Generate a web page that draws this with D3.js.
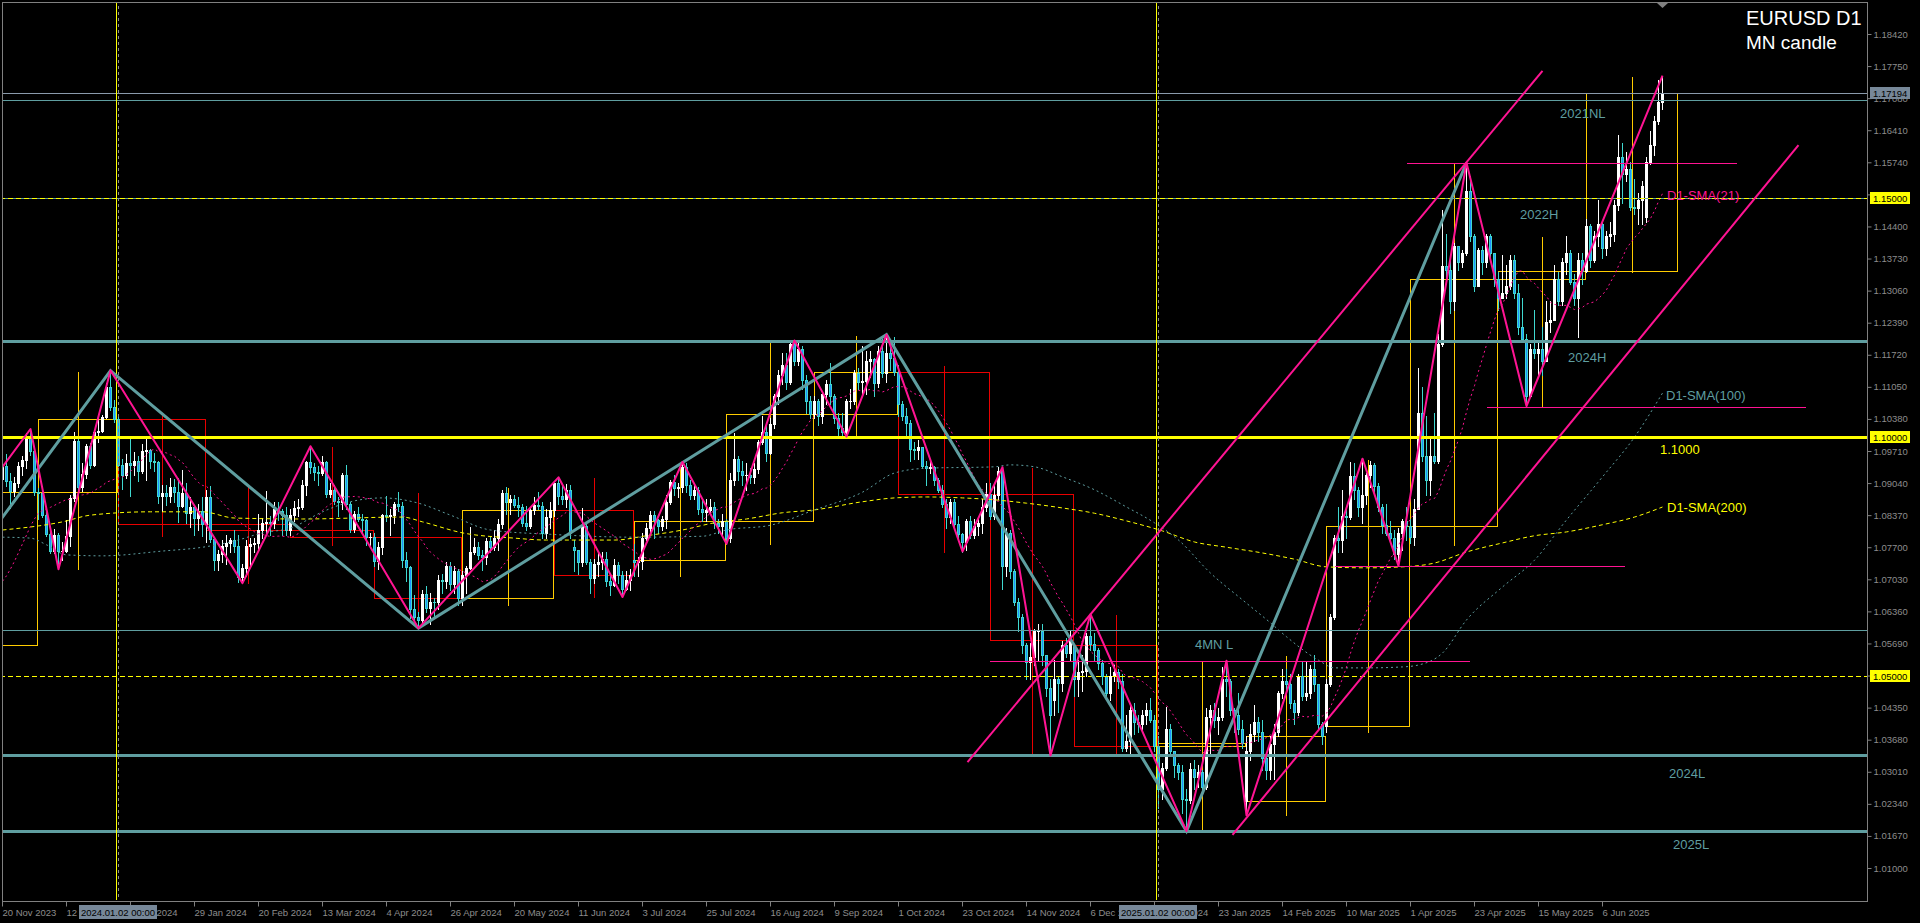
<!DOCTYPE html>
<html><head><meta charset="utf-8">
<script src="https://cdn.jsdelivr.net/npm/d3@7"></script>
<style>html,body{margin:0;padding:0;background:#000;overflow:hidden}</style>
</head><body>
<svg id="c" width="1920" height="923"></svg>
<script>
// ===== DATA (prices in pips above 1.0000) — EURUSD daily, 20 Nov 2023 .. 27 Jun 2025 =====
const openPips = [
912,940,908,888,905,940,953,998,970,886, 883,837,797,763,795,762,763,793,873,991,
895,923,982,942,1010,1012,1043,1105,1062,1038, 942,920,946,941,950,930,972,974,951,948,
878,884,876,896,886,856,884,842,855,831, 845,818,875,788,743,756,772,778,785,772,
708,727,772,777,778,807,820,822,820,850, 845,838,805,838,852,855,900,947,937,927,
925,947,882,890,867,865,920,861,808,840, 830,826,791,792,742,770,837,836,837,861,
856,743,728,642,625,617,672,643,656,655, 702,700,730,694,720,665,712,727,760,770,
753,750,782,770,790,818,883,865,870,858, 855,820,815,848,858,857,800,833,848,904,
877,870,890,770,765,740,815,740,705,735, 740,745,700,692,733,712,682,702,743,740,
742,790,810,838,826,814,830,865,906,894, 895,938,900,880,890,850,843,847,855,820,
815,825,790,910,955,930,920,921,917,933, 990,1010,967,1027,1085,1130,1150,1115,1195,1160,
1185,1120,1075,1048,1075,1045,1090,1110,1085,1040, 1020,1010,1075,1076,1133,1115,1118,1160,1163,1112,
1180,1133,1176,1165,1135,1070,1045,1030,975,973, 980,940,935,937,910,890,860,833,865,818,
798,780,825,795,815,820,855,882,835,880, 930,730,800,720,655,625,565,530,540,595,
596,545,475,450,495,487,565,550,566,495, 510,512,585,567,555,528,500,465,500,510,
490,350,365,430,405,400,420,430,410,355, 265,308,390,345,315,300,245,243,307,290,
300,270,415,430,410,415,495,490,430,420, 390,240,345,380,405,385,330,305,360,385,
465,490,485,445,425,500,460,465,515,485, 400,397,485,625,790,785,835,833,918,890,
855,880,920,942,898,853,816,800,790,755, 800,825,815,791,850,1050,960,910,960,950,
1195,1357,1350,1285,1400,1365,1385,1515,1420,1315, 1390,1365,1420,1385,1330,1290,1300,1315,1370,1300,
1230,1205,1085,1185,1175,1185,1160,1240,1245,1330, 1285,1365,1385,1325,1290,1370,1347,1440,1370,1420,
1445,1395,1420,1425,1485,1585,1550,1560,1480,1478, 1495,1460,1575,1610,1660,1700];
const highPips = [
965,964,926,917,948,960,1009,1017,980,894, 897,846,806,809,800,780,827,880,1010,996,
945,985,988,1012,1040,1046,1112,1139,1077,1046, 955,965,998,968,960,985,998,975,966,950,
900,900,915,912,915,932,905,875,857,860, 874,889,897,790,765,785,795,790,805,795,
735,785,790,790,840,832,888,835,865,865, 850,855,850,866,870,910,950,981,945,940,
960,950,905,900,875,925,942,865,845,855, 840,830,800,800,780,840,876,850,865,885,
865,760,730,670,635,680,690,675,665,712, 715,740,740,730,725,720,730,812,790,780,
765,790,792,805,830,890,895,880,880,875, 860,857,855,875,885,865,850,865,905,916,
900,902,900,785,765,852,820,745,745,760, 760,760,710,745,740,720,720,725,776,750,
800,820,845,845,830,835,880,910,920,905, 948,945,910,905,895,870,870,870,865,830,
840,830,925,1008,960,950,945,935,945,995, 1045,1025,1040,1090,1140,1175,1175,1200,1202,1200,
1190,1130,1085,1085,1080,1095,1120,1155,1090,1050, 1050,1080,1100,1140,1145,1190,1180,1180,1165,1190,
1205,1214,1205,1210,1150,1075,1060,1035,990,995, 980,950,950,940,915,900,870,870,870,835,
800,830,835,830,830,870,905,905,905,937, 937,810,805,725,665,630,570,570,600,610,
610,545,495,535,500,575,580,595,566,535, 545,590,630,590,560,535,505,520,525,515,
505,420,445,445,420,430,445,455,420,375, 320,437,400,345,320,315,265,320,325,315,
305,435,440,445,435,520,533,495,435,465, 410,375,400,440,415,410,340,375,400,470,
515,515,505,450,505,530,530,525,545,485, 405,495,630,795,855,890,855,947,945,895,
955,925,950,945,905,860,860,825,805,810, 830,855,830,870,1144,1105,1045,1000,1050,1215,
1475,1425,1370,1405,1400,1390,1573,1545,1425,1395, 1400,1425,1425,1385,1345,1380,1360,1380,1380,1320,
1290,1215,1195,1265,1200,1230,1285,1285,1360,1345, 1375,1420,1390,1340,1385,1385,1455,1445,1430,1495,
1450,1430,1450,1495,1630,1615,1595,1575,1540,1510, 1535,1585,1640,1670,1745,1755];
const lowPips = [
902,897,852,878,896,920,935,962,880,828, 833,794,757,758,724,744,761,772,866,881,
888,915,935,940,990,1010,1040,1057,1032,939, 892,915,877,920,908,925,910,935,930,862,
845,858,865,865,822,854,821,813,795,805, 794,780,780,723,722,740,735,760,760,697,
695,710,732,760,765,790,800,795,810,827, 796,796,796,825,835,850,880,925,910,900,
920,875,875,860,835,850,850,802,802,825, 802,775,775,730,725,755,825,795,820,845,
728,700,623,615,601,612,635,610,625,640, 675,685,680,675,650,650,675,725,755,745,
723,735,760,765,765,810,840,840,855,835, 815,805,810,840,850,790,790,810,835,860,
860,855,790,720,715,730,735,675,695,710, 725,690,670,690,695,666,680,680,710,710,
725,785,800,790,800,805,810,860,880,875, 885,885,870,870,840,825,825,840,810,800,
795,777,780,900,910,900,890,905,905,925, 985,950,965,1020,1070,1110,1100,1110,1150,1150,
1100,1050,1040,1040,1026,1030,1070,1070,1030,1005, 1003,1001,1060,1070,1100,1085,1090,1125,1085,1105,
1125,1115,1140,1130,1045,1035,1005,950,955,955, 935,900,925,900,885,855,810,820,810,790,
761,765,790,790,795,800,845,830,830,870, 683,710,705,650,595,550,495,495,525,535,
525,460,335,420,425,470,540,535,460,460, 470,500,555,535,515,485,455,450,490,475,
345,345,340,380,385,385,400,405,345,225, 245,305,340,290,285,215,177,235,265,270,
265,265,340,395,380,410,460,420,385,380, 350,210,325,365,365,305,285,285,285,375,
455,465,435,400,420,450,450,455,470,390, 360,385,480,620,760,760,790,830,870,835,
820,860,895,880,845,800,795,780,745,731, 765,785,778,775,850,950,880,880,945,945,
1190,1320,1260,1265,1350,1355,1380,1410,1305,1315, 1340,1355,1370,1315,1265,1290,1290,1310,1290,1215,
1200,1065,1085,1165,1130,1130,1160,1220,1245,1275, 1275,1340,1320,1275,1210,1320,1345,1355,1365,1400,
1375,1380,1400,1410,1475,1490,1535,1475,1465,1445, 1445,1450,1570,1590,1655,1685];
const closePips = [
940,908,888,905,940,953,998,970,886,883, 837,797,763,795,762,763,793,873,991,895,
923,982,942,1010,1012,1043,1105,1062,1038,942, 920,946,941,950,930,972,974,951,948,878,
884,876,896,886,856,884,842,855,831,845, 818,875,788,743,756,772,778,785,772,708,
727,772,777,778,807,820,822,820,850,845, 838,805,838,852,855,900,947,937,927,925,
947,882,890,867,865,920,861,808,840,830, 826,791,792,742,770,837,836,837,861,856,
743,728,642,625,617,672,643,656,655,702, 700,730,694,720,665,712,727,760,770,753,
750,782,770,790,818,883,865,870,858,855, 820,815,848,858,857,800,833,848,904,877,
870,890,800,765,740,815,740,705,735,740, 745,700,692,733,712,682,702,713,740,742,
790,810,838,826,814,830,865,906,894,895, 938,900,880,890,850,843,847,855,820,815,
825,790,910,955,930,920,921,917,933,990, 1010,967,1027,1085,1130,1150,1115,1195,1160,1185,
1120,1075,1048,1075,1045,1090,1110,1085,1040,1020, 1010,1075,1076,1133,1115,1118,1160,1163,1112,1180,
1133,1176,1165,1135,1070,1045,1030,975,973,980, 940,935,937,910,890,860,833,865,818,798,
780,825,795,815,820,855,882,835,880,930, 730,800,720,655,625,565,530,540,595,596,
545,475,420,495,487,565,550,577,495,510, 512,585,567,555,528,500,465,500,510,490,
350,365,430,405,400,420,430,410,355,265, 308,390,345,315,300,245,243,307,290,300,
270,415,430,410,415,495,490,430,420,390, 362,345,380,405,385,330,305,360,385,465,
490,485,445,425,500,460,465,515,485,400, 375,485,625,790,785,835,833,918,890,855,
880,920,942,898,853,816,800,790,755,800, 825,815,791,850,1050,960,910,960,950,1195,
1357,1350,1285,1400,1365,1385,1515,1420,1315,1390, 1365,1420,1385,1330,1290,1300,1315,1370,1300,1230,
1205,1085,1185,1175,1185,1160,1240,1245,1330,1285, 1365,1385,1325,1290,1370,1347,1440,1370,1420,1445,
1395,1420,1425,1485,1585,1550,1560,1480,1478,1495, 1525,1575,1610,1660,1700,1719];
// 20 closes before the first bar (for the 21-period average)
const priorCloses = [670,590,565,565,565,615,575,570,620,730,720,700,710,670,685,700,880,850,850,910];

// monthly candles: first bar index of each month from Dec 2023
const monthStarts = [9,29,51,72,93,115,138,158,181,203,224,247,268,289,311,331,352,374,396];
const priorMonthStart = -13, priorMonthOpen = 1.0566, priorMonthHigh = 1.1017, priorMonthLow = 1.0516;
const lastMonthEndBar = 418;

// moving averages: [bar index, price]
const sma100Pts = [[0,1.0791],[7,1.0789],[11,1.0775],[16,1.0754],[25,1.0752],[40,1.0762],[50,1.0770],[58,1.0783],[65,1.0800],[72,1.0810],[80,1.0844],[87,1.0865],[95,1.0873],[104,1.0862],[112,1.0837],[122,1.0806],[137,1.0797],[158,1.0791],[175,1.0793],[181,1.0806],[192,1.0816],[203,1.0848],[215,1.0885],[223,1.0925],[231,1.0935],[248,1.0938],[252,1.0942],[258,1.0938],[265,1.0917],[273,1.0890],[281,1.0854],[288,1.0821],[294,1.0785],[302,1.0716],[310,1.0660],[317,1.0612],[321,1.0583],[329,1.0534],[333,1.0518],[341,1.0518],[350,1.0520],[354,1.0524],[360,1.0549],[366,1.0618],[375,1.0687],[383,1.0743],[391,1.0827],[400,1.0917],[408,1.1000],[415,1.1092]];
const sma200Pts = [[0,1.0806],[15,1.0823],[22,1.0837],[37,1.0844],[50,1.0844],[58,1.0831],[75,1.0829],[100,1.0833],[105,1.0823],[115,1.0800],[128,1.0789],[136,1.0785],[153,1.0785],[161,1.0794],[170,1.0806],[178,1.0821],[186,1.0829],[195,1.0842],[203,1.0848],[215,1.0865],[223,1.0873],[231,1.0875],[240,1.0873],[248,1.0869],[256,1.0862],[265,1.0852],[273,1.0841],[281,1.0825],[290,1.0804],[298,1.0781],[306,1.0770],[315,1.0758],[323,1.0745],[331,1.0729],[341,1.0727],[350,1.0729],[358,1.0737],[366,1.0760],[375,1.0779],[383,1.0794],[391,1.0802],[400,1.0817],[408,1.0833],[415,1.0854]];

// zigzags: bar index + price
const zzPinkIdx = [0,7,14,27,60,77,104,139,155,170,181,198,211,221,240,250,262,272,296,306,311,340,349,366,381,415];
const zzPinkPrice = [1.0938,1.1017,1.0724,1.1139,1.0695,1.0981,1.0601,1.0916,1.0666,1.0948,1.0777,1.1202,1.1001,1.1214,1.0761,1.0937,1.0335,1.0630,1.0177,1.0533,1.0210,1.0955,1.0731,1.1573,1.1065,1.1755];
const zzTealIdx = [-0.5,27,104,221,296,366];
const zzTealPrice = [1.0827,1.1139,1.0601,1.1214,1.0177,1.1573];

// channel lines (two anchors each)
const channelUpper = [[241.25,1.0321],[385,1.1765]];
const channelLower = [[307.5,1.0169],[449,1.1610]];

// horizontal levels
const bidPrice = 1.17194;
const tealThinLevels = [1.1704, 1.1500, 1.0597];
const tealThickLevels = [1.1200, 1.0335, 1.0177];
const yellowThickLevels = [1.1000];
const yellowDashLevels = [1.1500, 1.0500];
// short pink levels: start bar, end bar, price
const pinkSegStart = [351.25, 371.25, 333.25, 247];
const pinkSegEnd = [433.75, 451, 405.75, 367];
const pinkSegPrice = [1.1573, 1.1063, 1.0731, 1.0532];

// text labels on the chart: text, bar index (left), price (baseline)
const tealLabelText = ["2021NL","2022H","2024H","D1-SMA(100)","4MN L","2024L","2025L"];
const tealLabelIdx = [389.5, 379.5, 391.5, 416, 298.25, 416.75, 417.75];
const tealLabelPrice = [1.16666, 1.14556, 1.11569, 1.10775, 1.05574, 1.02880, 1.01397];
const yellowLabelText = ["1.1000","D1-SMA(200)"];
const yellowLabelIdx = [414.5, 416.25];
const yellowLabelPrice = [1.09647, 1.08436];
const pinkLabelText = ["D1-SMA(21)"];
const pinkLabelIdx = [416.25];
const pinkLabelPrice = [1.14953];

// period separators
const sepBars = [29, 289];
const sepText = ["2024.01.02 00:00", "2025.01.02 00:00"];

// axis ticks
const priceTicks = ["1.18420","1.17750","1.17080","1.16410","1.15740","1.15070","1.14400","1.13730","1.13060","1.12390","1.11720","1.11050","1.10380","1.09710","1.09040","1.08370","1.07700","1.07030","1.06360","1.05690","1.05020","1.04350","1.03680","1.03010","1.02340","1.01670","1.01000"];
const markedPriceText = ["1.17194","1.15000","1.10000","1.05000"];
const timeTickIdx = [0,16,32,48,64,80,96,112,128,144,160,176,192,208,224,240,256,272,288,304,320,336,352,368,384,400];
const timeTickLabels = ["20 Nov 2023","12 Dec 2023","5 Jan 2024","29 Jan 2024","20 Feb 2024","13 Mar 2024","4 Apr 2024","26 Apr 2024","20 May 2024","11 Jun 2024","3 Jul 2024","25 Jul 2024","16 Aug 2024","9 Sep 2024","1 Oct 2024","23 Oct 2024","14 Nov 2024","6 Dec 2024","31 Dec 2024","23 Jan 2025","14 Feb 2025","10 Mar 2025","1 Apr 2025","23 Apr 2025","15 May 2025","6 Jun 2025"];
const titleLines = ["EURUSD D1","MN candle"];

// ===== DRAWING =====
const P = v => 1 + v / 10000;
const N = Math.min(openPips.length, highPips.length, lowPips.length, closePips.length);
const bars = d3.range(N).map(i => {
  const o = P(openPips[i]), c = P(closePips[i]);
  return {i, o, c, h: Math.max(P(highPips[i]), o, c), l: Math.min(P(lowPips[i]), o, c)};
});
const allC = priorCloses.concat(closePips.slice(0, N)).map(P);
const sma21 = bars.map((b, i) => [i, d3.mean(allC.slice(i, i + 21))]);

const svg = d3.select('#c');
svg.append('rect').attr('width', 1920).attr('height', 923).attr('fill', '#000');
svg.append('defs').append('clipPath').attr('id', 'plot')
  .append('rect').attr('x', 3).attr('y', 3).attr('width', 1864).attr('height', 897);

const x = d3.scaleLinear().domain([0, 415]).range([2, 1662]);
const y = d3.scaleLinear().domain([1.0100, 1.1842]).range([868, 34]);
const ry = p => Math.round(y(p)) + 0.5;
const FONT = '"Liberation Sans", Arial, sans-serif';

const g = svg.append('g').attr('clip-path', 'url(#plot)');

// --- monthly candles
const months = [];
{
  const first = bars.slice(0, monthStarts[0]);
  months.push({s: priorMonthStart, e: monthStarts[0] - 1, o: priorMonthOpen,
    h: Math.max(priorMonthHigh, d3.max(first, d => d.h)), l: Math.min(priorMonthLow, d3.min(first, d => d.l)),
    c: first[first.length - 1].c});
  monthStarts.forEach((s, k) => {
    const last = k + 1 < monthStarts.length ? monthStarts[k + 1] - 1 : N - 1;
    const seg = bars.slice(s, last + 1);
    months.push({s, e: k + 1 < monthStarts.length ? last : lastMonthEndBar, o: seg[0].o,
      h: d3.max(seg, d => d.h), l: d3.min(seg, d => d.l), c: seg[seg.length - 1].c});
  });
}
const gm = g.append('g').attr('shape-rendering', 'crispEdges').attr('fill', 'none');
months.forEach(m => {
  const col = m.c >= m.o ? '#ffcc00' : '#e80000';
  const L = x(m.s) + 0.5, R = x(m.e) + 3.5;
  const T = ry(Math.max(m.o, m.c)), B = ry(Math.min(m.o, m.c));
  const mid = Math.round((L + R) / 2) + 0.5;
  gm.append('line').attr('x1', mid).attr('x2', mid).attr('y1', ry(m.h)).attr('y2', ry(m.l)).attr('stroke', col);
  gm.append('rect').attr('x', L).attr('y', T).attr('width', R - L).attr('height', Math.max(B - T, 0)).attr('stroke', col);
});

// --- candles
const gc = g.append('g').attr('shape-rendering', 'crispEdges');
bars.forEach(b => {
  const bull = b.c >= b.o;
  const px = x(b.i);
  const wick = bull ? '#ffffff' : '#3fd8d0';
  const fill = bull ? '#ffffff' : '#1e90ff';
  gc.append('line').attr('x1', px + 0.5).attr('x2', px + 0.5)
    .attr('y1', Math.round(y(b.h))).attr('y2', Math.round(y(b.l)) + 1).attr('stroke', wick);
  const top = Math.round(y(Math.max(b.o, b.c))), bot = Math.round(y(Math.min(b.o, b.c)));
  if (bot - top < 1) {
    gc.append('line').attr('x1', px - 1).attr('x2', px + 2).attr('y1', top + 0.5).attr('y2', top + 0.5).attr('stroke', wick);
  } else {
    gc.append('rect').attr('x', px - 0.5).attr('y', top + 0.5).attr('width', 2).attr('height', bot - top)
      .attr('fill', fill).attr('stroke', wick);
  }
});

// --- moving averages
const lineGen = d3.line().x(d => x(d[0]) + 0.5).y(d => y(d[1]));
const smoothGen = d3.line().x(d => x(d[0]) + 0.5).y(d => y(d[1])).curve(d3.curveMonotoneX);
g.append('path').attr('d', smoothGen(sma200Pts)).attr('fill', 'none').attr('stroke', '#ffff00').attr('stroke-width', 1).attr('stroke-dasharray', '4,3');
g.append('path').attr('d', smoothGen(sma100Pts)).attr('fill', 'none').attr('stroke', '#5f9ea0').attr('stroke-width', 1).attr('stroke-dasharray', '2,3');
g.append('path').attr('d', lineGen(sma21)).attr('fill', 'none').attr('stroke', '#ff1493').attr('stroke-width', 1).attr('stroke-dasharray', '2,3');

// --- horizontal levels
const gl = g.append('g').attr('shape-rendering', 'crispEdges');
function hline(p, col, w, dash) {
  const l = gl.append('line').attr('x1', 0).attr('x2', 1870).attr('y1', ry(p)).attr('y2', ry(p))
    .attr('stroke', col).attr('stroke-width', w);
  if (dash) l.attr('stroke-dasharray', dash);
}
hline(bidPrice, '#8a9aab', 1);
tealThinLevels.forEach(p => hline(p, '#5f9ea0', 1));
tealThickLevels.forEach(p => hline(p, '#5f9ea0', 3));
yellowThickLevels.forEach(p => hline(p, '#ffff00', 3));
yellowDashLevels.forEach(p => hline(p, '#ffff00', 1, '5,3'));
pinkSegPrice.forEach((p, k) => {
  gl.append('line').attr('x1', x(pinkSegStart[k])).attr('x2', x(pinkSegEnd[k]))
    .attr('y1', ry(p)).attr('y2', ry(p)).attr('stroke', '#ff1493').attr('stroke-width', 1);
});

// --- period separators
sepBars.forEach(i => {
  gl.append('line').attr('x1', x(i) - 1.5).attr('x2', x(i) - 1.5).attr('y1', 0).attr('y2', 901).attr('stroke', '#ffff00');
  gl.append('line').attr('x1', x(i) + 0.5).attr('x2', x(i) + 0.5).attr('y1', 0).attr('y2', 901)
    .attr('stroke', '#8c8c8c').attr('stroke-dasharray', '3,3');
});

// --- zigzags and channels
const tealZZ = zzTealIdx.map((d, k) => [d, zzTealPrice[k]]);
const pinkZZ = zzPinkIdx.map((d, k) => [d, zzPinkPrice[k]]);
g.append('path').attr('d', lineGen(tealZZ)).attr('fill', 'none').attr('stroke', '#5f9ea0').attr('stroke-width', 3);
g.append('path').attr('d', lineGen(pinkZZ)).attr('fill', 'none').attr('stroke', '#ff1493').attr('stroke-width', 2).attr('stroke-linejoin', 'round');
[channelUpper, channelLower].forEach(ch => {
  g.append('path').attr('d', lineGen(ch)).attr('fill', 'none').attr('stroke', '#ff1493').attr('stroke-width', 2);
});

// --- chart texts
function labels(texts, idx, prices, col) {
  texts.forEach((t, k) => {
    g.append('text').attr('x', x(idx[k])).attr('y', y(prices[k])).attr('fill', col)
      .style('font', '13px ' + FONT).text(t);
  });
}
labels(tealLabelText, tealLabelIdx, tealLabelPrice, '#5f9ea0');
labels(yellowLabelText, yellowLabelIdx, yellowLabelPrice, '#ffff00');
labels(pinkLabelText, pinkLabelIdx, pinkLabelPrice, '#ff1493');

svg.append('text').attr('x', 1746).attr('y', 25).attr('fill', '#ffffff').style('font', '20px ' + FONT).text(titleLines[0]);
svg.append('text').attr('x', 1746).attr('y', 49).attr('fill', '#ffffff').style('font', '19px ' + FONT).text(titleLines[1]);

// --- frame
svg.append('rect').attr('x', 2.5).attr('y', 2.5).attr('width', 1865).attr('height', 898.5)
  .attr('fill', 'none').attr('stroke', '#808080').attr('shape-rendering', 'crispEdges');
svg.append('path').attr('d', `M${x(415) - 5},3 L${x(415) + 6},3 L${x(415) + 0.5},8 Z`).attr('fill', '#808080');

// --- price axis
const yAxis = d3.axisRight(y).tickValues(priceTicks.map(Number)).tickFormat(d3.format('.5f')).tickSize(4).tickPadding(2);
const ya = svg.append('g').attr('transform', 'translate(1867.5,0)').call(yAxis);
ya.select('.domain').remove();
ya.selectAll('line').attr('stroke', '#808080');
ya.selectAll('text').attr('fill', '#8c8c8c').style('font', '9.5px ' + FONT);
[bidPrice].concat(yellowThickLevels, yellowDashLevels).sort((a, b) => b - a).forEach((p, k) => {
  const yc = Math.round(y(p));
  svg.append('rect').attr('x', 1870).attr('y', yc - 6).attr('width', 40).attr('height', 12)
    .attr('fill', k === 0 ? '#778899' : '#ffff00');
  svg.append('text').attr('x', 1873).attr('y', yc + 3.5).attr('fill', '#000').style('font', '9.5px ' + FONT)
    .text(markedPriceText[k]);
});

// --- time axis
const xAxis = d3.axisBottom(x).tickValues(timeTickIdx).tickFormat((d, k) => timeTickLabels[k]).tickSize(5).tickPadding(3);
const xa = svg.append('g').attr('transform', 'translate(0,901.5)').call(xAxis);
xa.select('.domain').remove();
xa.selectAll('line').attr('stroke', '#808080');
xa.selectAll('text').attr('fill', '#8c8c8c').attr('text-anchor', 'start').style('font', '9.5px ' + FONT);
sepBars.forEach((i, k) => {
  const cx = x(i);
  svg.append('rect').attr('x', cx - 39).attr('y', 905).attr('width', 78).attr('height', 14).attr('fill', '#778899');
  svg.append('text').attr('x', cx).attr('y', 916).attr('text-anchor', 'middle').attr('fill', '#000')
    .style('font', '9.5px ' + FONT).text(sepText[k]);
});
</script>
</body></html>
